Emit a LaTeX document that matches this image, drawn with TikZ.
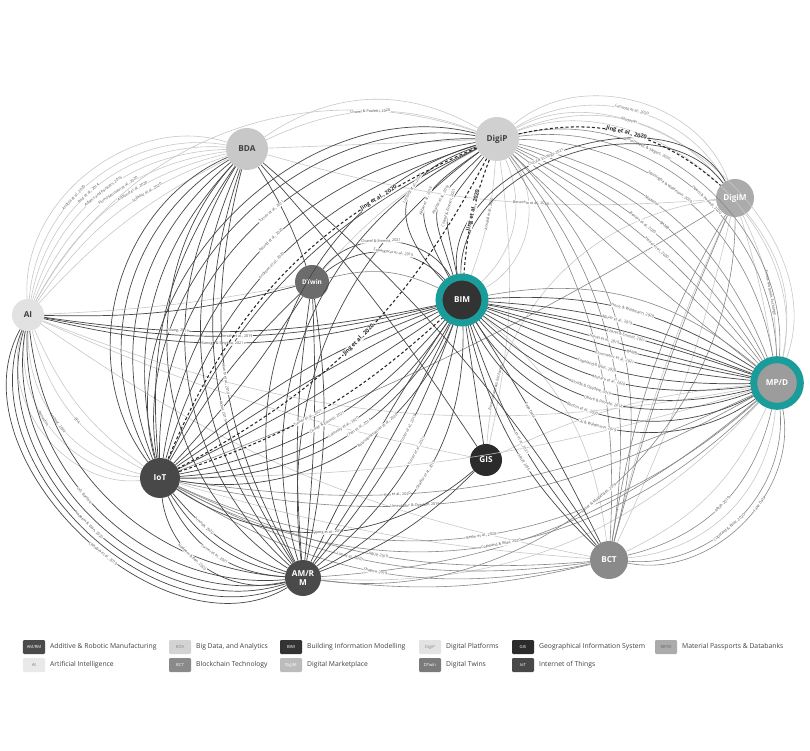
\documentclass[tikz,border=0pt]{standalone}
\usepackage{fontspec}
\setmainfont{Open Sans}
\usepackage{tikz}
\usetikzlibrary{positioning}

\definecolor{ringc}{HTML}{1A9C9A}
\definecolor{aic}{HTML}{E2E2E2}
\definecolor{bdac}{HTML}{C8C8C8}
\definecolor{digipc}{HTML}{D0D0D0}
\definecolor{digimc}{HTML}{ABABAB}
\definecolor{dtwinc}{HTML}{6C6C6C}
\definecolor{bimc}{HTML}{333333}
\definecolor{mpdc}{HTML}{9C9C9C}
\definecolor{gisc}{HTML}{2B2B2B}
\definecolor{iotc}{HTML}{484848}
\definecolor{amrmc}{HTML}{4A4A4A}
\definecolor{bctc}{HTML}{8A8A8A}

\begin{document}
\begin{tikzpicture}[x=0.03cm, y=0.03cm]
		\tikzset{
			ncirc/.style={
				circle, inner sep=0pt, align=center, text=white,
				font=\fontsize{7}{7.5}\selectfont\bfseries
			},
			lcirc/.style={
				ncirc, text=black!75
			},
			rcirc/.style={
				ncirc, draw=ringc, line width=0.21cm
			},
			lline/.style={draw=black!22, line width=0.5pt},
			mline/.style={draw=black!48, line width=0.5pt},
			dline/.style={draw=black!72, line width=0.6pt},
			dshline/.style={draw=black!85, line width=0.9pt, dash pattern=on 2.5pt off 2pt},
			lbl/.style={
				sloped, fill=white, inner sep=0.3pt, text=black!70,
				font=\fontsize{3.2}{3.5}\selectfont
			},
			blbl/.style={
				lbl, text=black!85, font=\fontsize{4.8}{5}\selectfont\bfseries
			},
			lbox/.style={
				rounded corners=1pt, minimum width=0.66cm, minimum height=0.42cm,
				inner sep=0pt, font=\fontsize{3.6}{4}\selectfont
			},
			ltxt/.style={
				inner sep=0pt, text=black!75, font=\fontsize{5.8}{6.5}\selectfont
			}
		}
		
		\fill [white] (0,0) rectangle (810,750);
		\useasboundingbox (0,0) rectangle (810,750);
		
		\node [lcirc, fill=aic, minimum size=0.96cm] (ai) at (28,435) {AI};
		\node [lcirc, fill=bdac, minimum size=1.26cm] (bda) at (247,601) {BDA};
		\node [lcirc, fill=digipc, minimum size=1.32cm] (digip) at (497,611) {DigiP};
		\node [ncirc, fill=digimc, minimum size=1.14cm] (digim) at (735,552) {DigiM};
		\node [ncirc, fill=dtwinc, minimum size=1.02cm, font=\fontsize{5.5}{6}\selectfont\bfseries] (dtwin) at (312,468) {DTwin};
		\node [rcirc, fill=bimc, minimum size=1.38cm] (bim) at (462,450) {BIM};
		\node [rcirc, fill=mpdc, minimum size=1.4cm] (mpd) at (777,367) {MP/D};
		\node [ncirc, fill=gisc, minimum size=0.96cm] (gis) at (486,290) {GIS};
		\node [ncirc, fill=iotc, minimum size=1.2cm] (iot) at (160,272) {IoT};
		\node [ncirc, fill=amrmc, minimum size=1.08cm] (amrm) at (303,172) {AM/R\\M};
		\node [ncirc, fill=bctc, minimum size=1.14cm] (bct) at (609,190) {BCT};
		
		\foreach \a/\b/\bd in {ai/bda/56, ai/bda/10, ai/digip/40, ai/iot/-15, ai/iot/-58, ai/gis/-6,
			ai/bct/-12, ai/mpd/-16, ai/dtwin/-4, bda/digip/0, bda/digip/32, dtwin/digip/10,
			digip/digim/55, digip/mpd/62, digip/mpd/70, digim/mpd/25, digim/mpd/4, digim/bct/-5,
			digim/bct/6, bim/digip/-35, bim/digip/-50, gis/digip/-10, bct/mpd/-20, bct/mpd/-40,
			iot/mpd/-8, iot/bct/-6, amrm/mpd/-25, bim/bct/22, gis/mpd/10}{
			\path (\a) edge [lline, bend left=\bd] (\b);
		}
		
		\foreach \a/\b/\bd/\p/\tx in {
			ai/bda/48/.4/{Andola et al., 2020},
			ai/bda/42/.45/{Bird et al., 2014},
			ai/bda/36/.5/{Adams and Partners, 2016},
			ai/bda/30/.55/{Flomo Mousavi et al., 2020},
			ai/bda/24/.6/{Asplund et al., 2020},
			ai/bda/18/.65/{Sobkhiz et al., 2020},
			ai/iot/-24/.56/{EPA},
			ai/iot/-39/.5/{Ambler, 2020},
			ai/iot/-48/.44/{Benachio},
			bda/digip/23/.5/{Charef \& Paoletti, 2020},
			digip/digim/46/.5/{Lunacek et al., 2020},
			digip/digim/37/.5/{Madaster},
			digim/mpd/12/.57/{Excess Materials Exchange},
			gis/digim/40/.15/{Excess Materials Exchange},
			bda/digim/-10/.6/{Benachio et al., 2020},
			digip/bim/8/.45/{Ansaldi et al., 2020}
		}{
			\path (\a) edge [lline, bend left=\bd] node [lbl, pos=\p] {\tx} (\b);
		}
		
		\foreach \a/\b/\bd in {digip/mpd/5, digip/mpd/-3, bim/mpd/25, bct/digip/-18, bct/digip/-24,
			bct/digip/-30, bct/digim/4, bct/digim/10, iot/digim/-5, amrm/bct/-10, amrm/mpd/-18,
			dtwin/bim/20}{
			\path (\a) edge [mline, bend left=\bd] (\b);
		}
		
		\foreach \a/\b/\bd/\p/\tx in {
			digip/mpd/54/.34/{Durmisevic \& Slegers, 2020},
			digip/mpd/48/.54/{Oberti \& Paoletti, 2020},
			digip/mpd/40/.44/{Jayasinghe \& Waldmann, 2020},
			digip/mpd/28/.42/{Madaster},
			digip/mpd/22/.5/{BAMB},
			digip/mpd/16/.44/{Benton et al., 2020},
			digip/mpd/11/.53/{Heisel et al., 2020},
			iot/mpd/-17/.36/{Kim et al., 2020},
			iot/mpd/-21/.39/{Umeokafor \& Oyedele, 2019},
			iot/mpd/-33/.5/{Berlin et al., 2020},
			iot/mpd/-37/.53/{Copeland \& Bilec, 2020},
			iot/bct/-15/.5/{ARUP, 2019},
			iot/bct/-18/.43/{Lim et al., 2020},
			iot/bct/-22/.5/{Shapira, 2019},
			bct/mpd/-32/.5/{ARUP, 2019},
			bct/mpd/-50/.45/{Copeland \& Bilec, 2020},
			bct/mpd/-56/.6/{Fake Data},
			amrm/digim/-49/.48/{Kaiser \& Magalhães, 2019}
		}{
			\path (\a) edge [mline, bend left=\bd] node [lbl, pos=\p] {\tx} (\b);
		}
		
		\foreach \a/\b/\bd in {bda/iot/-20, bda/iot/-28, bda/iot/-36, bda/iot/-44, bda/iot/-52,
			bda/amrm/-32, bda/amrm/-40, bda/amrm/-50, bda/gis/4, bda/bct/8, bda/dtwin/6,
			digip/iot/-20, digip/iot/-54, digip/iot/-60, digip/amrm/-30, digip/amrm/-40,
			digip/amrm/-50, iot/bim/-4, iot/bim/4, iot/bim/10, iot/dtwin/-5, iot/dtwin/8,
			dtwin/amrm/-6, dtwin/amrm/4, dtwin/amrm/10, amrm/bim/-4, amrm/bim/4, amrm/gis/-12,
			gis/bim/0, ai/amrm/-40, ai/amrm/-56, ai/amrm/-68, ai/dtwin/-8, bim/digim/72,
			iot/amrm/-22, bim/mpd/6}{
			\path (\a) edge [dline, bend left=\bd] (\b);
		}
		
		\foreach \a/\b/\bd/\p/\tx in {
			ai/amrm/-49/.44/{UCL Bartlett},
			ai/amrm/-62/.5/{Nadeem \& Wan, 2020},
			ai/amrm/-75/.56/{Chhabra et al., 2019},
			ai/bim/-10/.33/{Wang, 2019},
			ai/bim/-12/.49/{Ansah et al., 2019},
			ai/bim/-15/.45/{Sanogo \& Onyeka, 2021},
			bda/amrm/-22/.52/{Akanbi et al., 2019},
			bda/amrm/-26/.6/{Akbar, 2019},
			digip/iot/-46/.44/{Turner et al., 2021},
			digip/iot/-36/.48/{Aslund et al., 2020},
			digip/iot/-28/.52/{Andrews et al., 2020},
			dtwin/bim/57/.45/{Charef \& Emmitt, 2021},
			dtwin/bim/43/.55/{Sepasgozar et al., 2019},
			iot/bim/-19/.5/{Charef \& Emmitt, 2021},
			iot/bim/-26/.54/{Lalousky et al., 2020},
			iot/bim/-31/.58/{Chen et al., 2014},
			iot/bim/-39/.62/{Balasubramanian et al., 2020},
			iot/amrm/-15/.31/{Arnolds, 2020},
			iot/amrm/-31/.5/{Turner et al., 2021},
			iot/amrm/-49/.4/{Nadeem \& Ben, 2020},
			iot/gis/-37/.5/{Wang et al., 2019},
			amrm/bim/-10/.6/{Foster et al., 2019},
			amrm/bim/-20/.54/{Turner et al., 2021},
			amrm/bim/-32/.48/{Ghaffar et al., 2019},
			bim/mpd/18/.52/{Honic \& Waldmann, 2020},
			bim/mpd/11/.47/{Aguiar et al., 2019},
			bim/mpd/4/.52/{Charef \& Emmitt, 2021},
			bim/mpd/-1/.44/{Heisel et al., 2019},
			bim/mpd/-4/.56/{BAMB},
			bim/mpd/-9/.5/{Durmisevic et al., 2021},
			bim/mpd/-16/.44/{Copeland \& Bilec, 2020},
			bim/mpd/-22/.5/{Munaro et al., 2020},
			bim/mpd/-29/.44/{Akinade \& Oyedele, 2019},
			bim/mpd/-35/.5/{Oberti \& Paoletti, 2018},
			bim/mpd/-43/.44/{Benton et al., 2020},
			bim/mpd/-51/.5/{Cai \& Waldmann, 2019},
			bim/digim/80/.45/{Circular Ecology, 2021},
			bim/bct/3/.4/{Fake Data},
			bim/bct/-11/.5/{Lim et al., 2021},
			bim/bct/-16/.58/{ARUP, 2016}
		}{
			\path (\a) edge [dline, bend left=\bd] node [lbl, pos=\p] {\tx} (\b);
		}
		
		\foreach \bd/\p/\tx in {57/.4/{Lunardi et al., 2020}, 42/.46/{Akbar et al., 2019},
			32/.4/{Akanbi et al., 2019}, 24/.47/{Charef \& Emmitt, 2021}}{
			\path (digip) edge [dline, bend right=\bd, looseness=1.6] node [lbl, pos=\p] {\tx} (bim);
		}
		
		\path (digip) edge [dshline, bend right=8] node [blbl, pos=.45] {Jing et al., 2020} (bim);
		\path (digip) edge [dshline, bend left=27] node [blbl] {Jing et al., 2020} (digim);
		\path (digip) edge [dshline, bend right=22] node [blbl, pos=.23] {Jing et al., 2020} (iot);
		\path (digip) edge [dshline, bend left=17] node [blbl] {Jing et al., 2020} (iot);
		\path (iot) edge [dshline, bend right=12] node [lbl, pos=.45] {Turner et al., 2021} (bim);
		
		\foreach \i/\x/\y/\c/\tc/\ab/\tx in {
			1/34/103/amrmc/white/{AM/RM}/{Additive \& Robotic Manufacturing},
			2/180/103/bdac!80/black!45/{BDA}/{Big Data, and Analytics},
			3/291/103/bimc/white/{BIM}/{Building Information Modelling},
			4/430/103/digipc!60/black!45/{DigiP}/{Digital Platforms},
			5/523/103/gisc/white/{GIS}/{Geographical Information System},
			6/666/103/mpdc!85/black!60/{MP/D}/{Material Passports \& Databanks},
			7/34/85/aic!75/black!55/{AI}/{Artificial Intelligence},
			8/180/85/bctc/white/{BCT}/{Blockchain Technology},
			9/291/85/digimc!80/white/{DigiM}/{Digital Marketplace},
			10/430/85/dtwinc!90/white/{DTwin}/{Digital Twins},
			11/523/85/iotc/white/{IoT}/{Internet of Things}
		}{
			\node [lbox, fill=\c, text=\tc] (lg\i) at (\x,\y) {\ab};
			\node [ltxt, right=0.14cm of lg\i] {\tx};
		}
\end{tikzpicture}
\end{document}
